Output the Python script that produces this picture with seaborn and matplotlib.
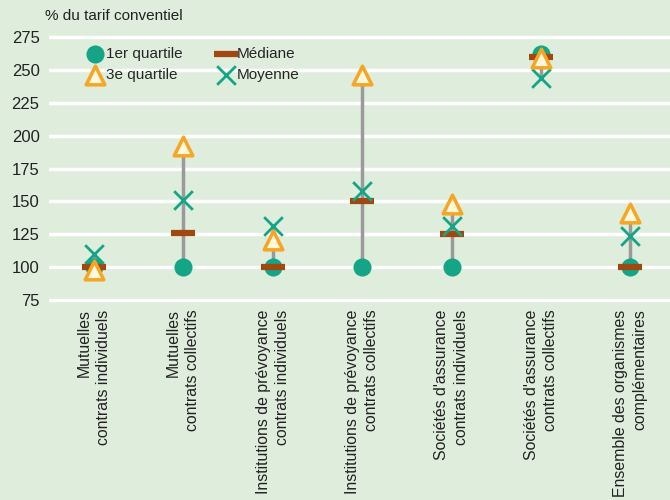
import matplotlib
matplotlib.use("Agg")
import matplotlib.pyplot as plt
import pandas as pd
import seaborn as sns

# Categories (two-line labels, as on the chart)
categories = [
    "Mutuelles\ncontrats individuels",
    "Mutuelles\ncontrats collectifs",
    "Institutions de prévoyance\ncontrats individuels",
    "Institutions de prévoyance\ncontrats collectifs",
    "Sociétés d'assurance\ncontrats individuels",
    "Sociétés d'assurance\ncontrats collectifs",
    "Ensemble des organismes\ncomplémentaires",
]
q1 = [100, 100, 100, 100, 100, 262, 100]
median = [100, 126, 100, 150, 125, 260, 100]
q3 = [98, 192, 121, 246, 148, 259, 141]
mean = [110, 151, 131, 158, 131, 244, 124]
yticks = [75, 100, 125, 150, 175, 200, 225, 250, 275]

BG = "#dfeedc"
TEAL = "#13a586"
BROWN = "#a0480f"
ORANGE = "#f6a524"
CREAM = "#fff8dc"
GREY = "#9a9a9a"

sns.set_theme(style="white")
plt.rcParams["font.family"] = ["Liberation Sans", "DejaVu Sans"]

df = pd.DataFrame({"cat": categories, "q1": q1, "median": median, "q3": q3, "mean": mean})
df["low"] = df[["q1", "median", "q3", "mean"]].min(axis=1)
df["high"] = df[["q1", "median", "q3", "mean"]].max(axis=1)

fig = plt.figure(figsize=(6.7, 5), dpi=100, facecolor=BG)
ax = fig.add_axes([0.0735, 0.387, 0.934, 0.557])
ax.set_facecolor(BG)

ax.vlines(df["cat"], df["low"], df["high"], color=GREY, lw=2.5, zorder=2)

sns.scatterplot(data=df, x="cat", y="q1", ax=ax, marker="o", s=170, color=TEAL,
                edgecolor=TEAL, linewidth=0, label="1er quartile", zorder=3)
sns.scatterplot(data=df, x="cat", y="median", ax=ax, marker="_", s=300, color=BROWN,
                linewidth=4.5, label="Médiane", zorder=4)
sns.scatterplot(data=df, x="cat", y="mean", ax=ax, marker="x", s=180, color=TEAL,
                linewidth=2, label="Moyenne", zorder=5)
sns.scatterplot(data=df, x="cat", y="q3", ax=ax, marker="^", s=180, color=CREAM,
                edgecolor=ORANGE, linewidth=2.5, label="3e quartile", zorder=6)

ax.set_xlim(-0.5, 6.5)
ax.set_ylim(70, 282)
ax.set_yticks(yticks)
ax.yaxis.grid(True, color="white", lw=2.5)
ax.set_axisbelow(True)
for s in ax.spines.values():
    s.set_visible(False)
ax.set_xlabel("")
ax.set_ylabel("")
ax.tick_params(axis="both", length=0, colors="#222222")
ax.tick_params(axis="y", pad=7, labelsize=12)
ax.tick_params(axis="x", pad=2, labelsize=11.4)
for lab in ax.get_xticklabels():
    lab.set_rotation(90)
    lab.set_ha("center")
    lab.set_va("top")
    lab.set_multialignment("right")
    lab.set_linespacing(1.35)

fig.text(0.067, 0.955, "% du tarif conventiel", fontsize=11, color="#222222",
         ha="left", va="bottom")

h, l = ax.get_legend_handles_labels()
order = ["1er quartile", "3e quartile", "Médiane", "Moyenne"]
hd = dict(zip(l, h))
ax.legend([hd[k] for k in order], order, ncol=2, frameon=False, loc="upper left",
          bbox_to_anchor=(0.051, 0.955), fontsize=11, handlelength=1.0,
          handletextpad=0.25, columnspacing=2.3, labelspacing=0.45, borderaxespad=0)

fig.savefig("out.png", dpi=100, facecolor=BG)
